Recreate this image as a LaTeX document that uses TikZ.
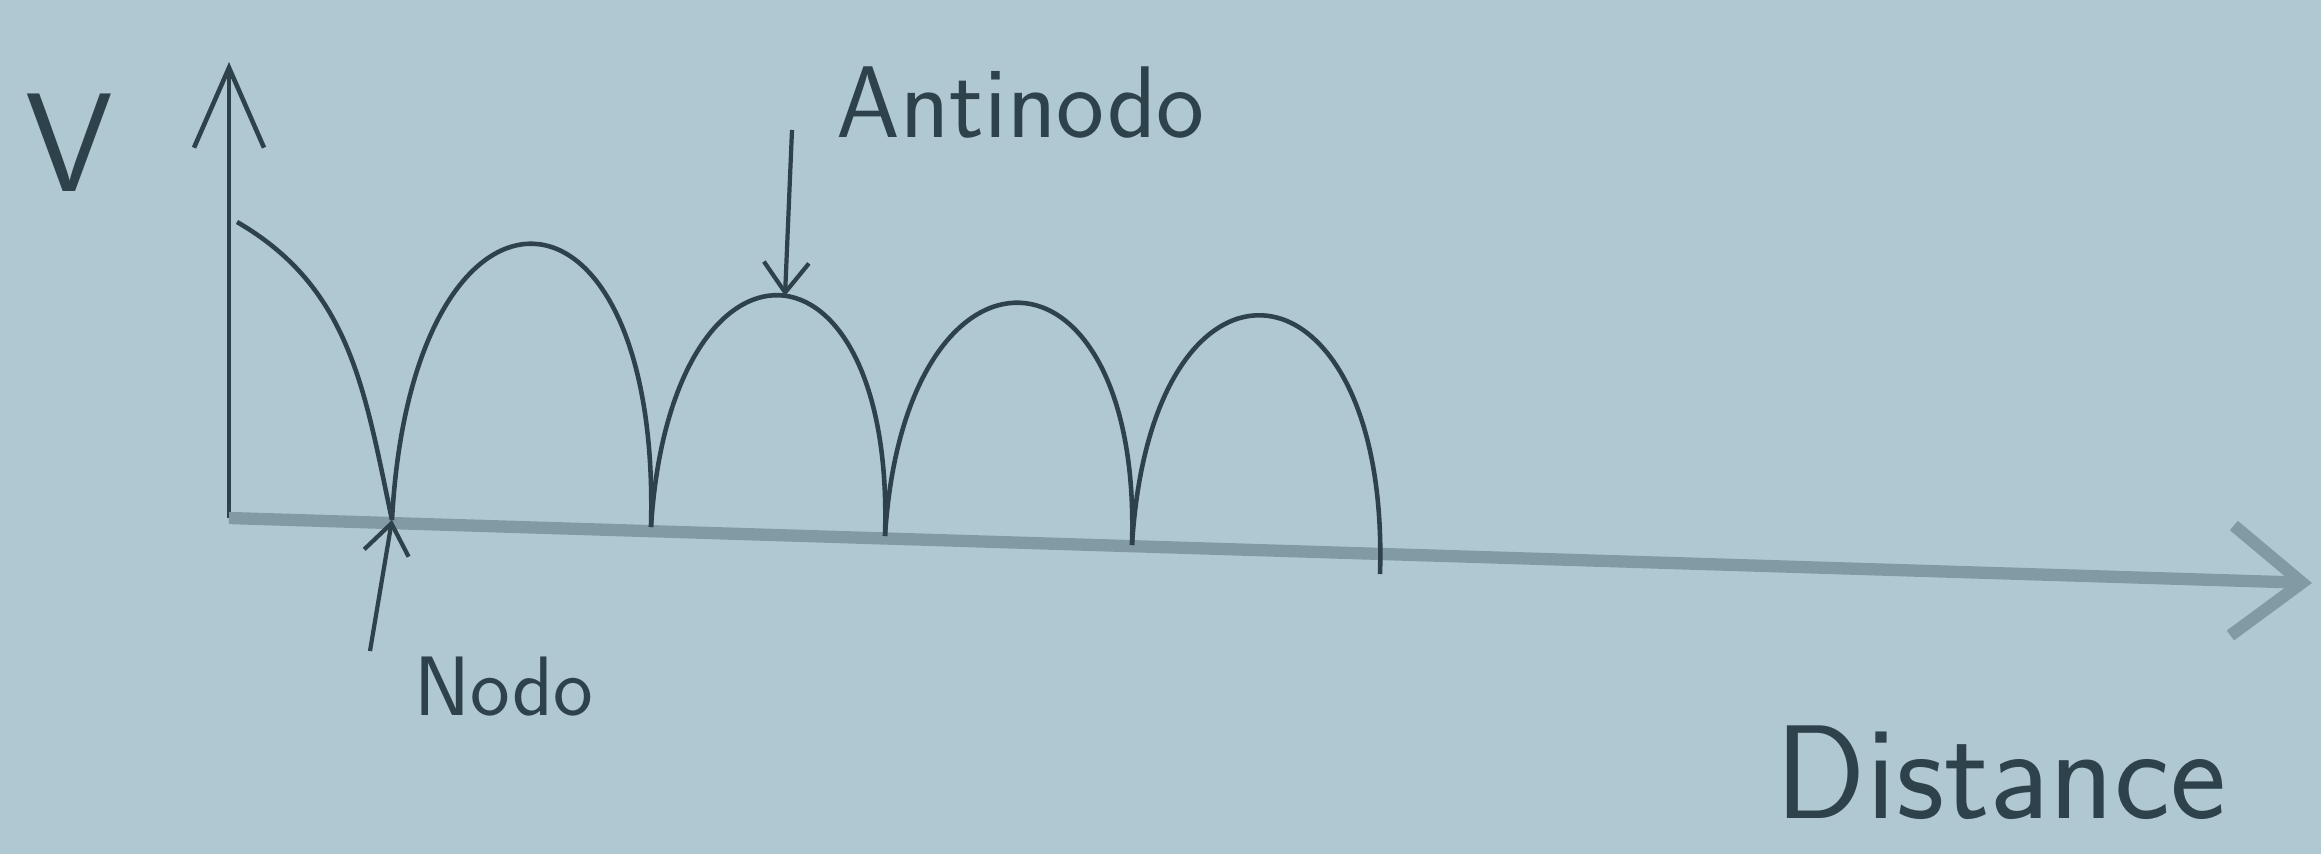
\documentclass[tikz,border=0pt]{standalone}
\usepackage{xcolor}
\usepackage{tikz}
\usetikzlibrary{arrows.meta,positioning}
\definecolor{paper}{RGB}{176,200,210}
\definecolor{ink}{RGB}{46,66,76}
\definecolor{pencil}{RGB}{130,154,164}

\begin{document}
\begin{tikzpicture}[
   lbl/.style={text=ink, inner sep=0pt, anchor=base west},
   wave/.style={draw=ink, line width=1.3pt},
   pointer/.style={draw=ink, line width=1.2pt,
                   -{Straight Barb[length=3mm,width=4.5mm]}},
   >=Stealth]
\fill[paper] (0,0) rectangle (23.21,8.54);
\useasboundingbox (0,0) rectangle (23.21,8.54);
% axes
\coordinate (o) at (2.29,3.36);
\coordinate (vtop) at (2.29,7.92);
\coordinate (xend) at (23.12,2.71);
\draw[ink, line width=1.3pt, -{Straight Barb[length=8mm,width=7mm]}] (o) -- (vtop);
\draw[pencil, line width=3.5pt, -{Straight Barb[length=7mm,width=11mm]}] (o) -- (xend);
% standing wave
\coordinate (w0) at (2.37,6.32);
\coordinate (n1) at (3.92,3.34);
\coordinate (n2) at (6.51,3.27);
\coordinate (n3) at (8.85,3.18);
\coordinate (n4) at (11.32,3.09);
\coordinate (n5) at (13.80,2.80);
\coordinate (p2) at (7.85,5.58);
\draw[wave] (w0) to[out=-30,in=102] (n1);
\foreach \a/\b/\h in {n1/n2/3.73,n2/n3/3.15,n3/n4/3.17,n4/n5/3.25}
  \draw[wave] (\a) .. controls +(0.2,\h) and +(0.1,\h) .. (\b);
% labels
\node[lbl, font=\sffamily\fontsize{40}{40}\selectfont] (v) at (0.25,6.62) {V};
\node[lbl, font=\sffamily\fontsize{29}{29}\selectfont] (anti) at (8.36,7.16) {Antinodo};
\node[lbl, font=\sffamily\fontsize{24}{24}\selectfont] (nodo) at (4.14,1.39) {Nodo};
\node[lbl, font=\sffamily\fontsize{38}{38}\selectfont] (dist) at (17.75,0.36) {Distance};
\coordinate (antitail) at (7.92,7.24);
\coordinate (nodotail) at (3.70,2.03);
\draw[pointer] (antitail) -- (p2);
\draw[pointer] (nodotail) -- (n1);
\end{tikzpicture}
\end{document}
